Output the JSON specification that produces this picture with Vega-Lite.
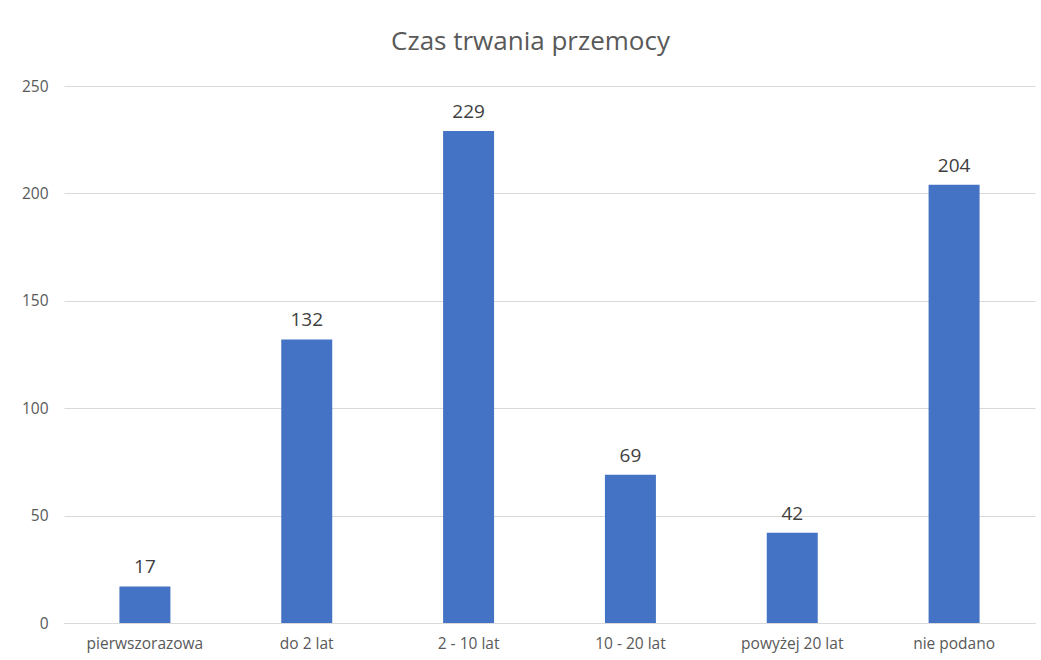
{
  "$schema": "https://vega.github.io/schema/vega-lite/v6.json",
  "autosize": {"type": "none"},
  "width": 971,
  "height": 537,
  "padding": {"left": 64, "top": 86, "right": 6, "bottom": 37},
  "background": "white",
  "config": {
    "view": {"stroke": null},
    "font": "Open Sans"
  },
  "title": {
    "text": "Czas trwania przemocy",
    "fontSize": 26,
    "fontWeight": "normal",
    "color": "#595959",
    "font": "Open Sans",
    "anchor": "middle",
    "dx": -19,
    "offset": 24
  },
  "data": {
    "values": [
      {"kategoria": "pierwszorazowa", "liczba": 17},
      {"kategoria": "do 2 lat", "liczba": 132},
      {"kategoria": "2 - 10 lat", "liczba": 229},
      {"kategoria": "10 - 20 lat", "liczba": 69},
      {"kategoria": "powyżej 20 lat", "liczba": 42},
      {"kategoria": "nie podano", "liczba": 204}
    ]
  },
  "encoding": {
    "x": {
      "field": "kategoria",
      "type": "nominal",
      "sort": null,
      "scale": {"paddingInner": 0.685, "paddingOuter": 0.3425},
      "axis": {
        "title": null,
        "labelAngle": 0,
        "labelFontSize": 15.5,
        "labelColor": "#595959",
        "labelPadding": 13,
        "ticks": false,
        "domain": true,
        "domainColor": "#d9d9d9",
        "domainWidth": 1
      }
    },
    "y": {
      "field": "liczba",
      "type": "quantitative",
      "scale": {"domain": [0, 250]},
      "axis": {
        "title": null,
        "values": [0, 50, 100, 150, 200, 250],
        "labelFontSize": 15.5,
        "labelColor": "#595959",
        "labelPadding": 16,
        "ticks": false,
        "domain": false,
        "grid": true,
        "gridColor": "#d9d9d9",
        "gridWidth": 1
      }
    }
  },
  "layer": [
    {"mark": {"type": "bar", "color": "#4472C4"}},
    {
      "mark": {"type": "text", "dy": -13, "fontSize": 19, "color": "#404040", "baseline": "alphabetic", "font": "Open Sans"},
      "encoding": {"text": {"field": "liczba", "type": "quantitative"}}
    }
  ]
}
